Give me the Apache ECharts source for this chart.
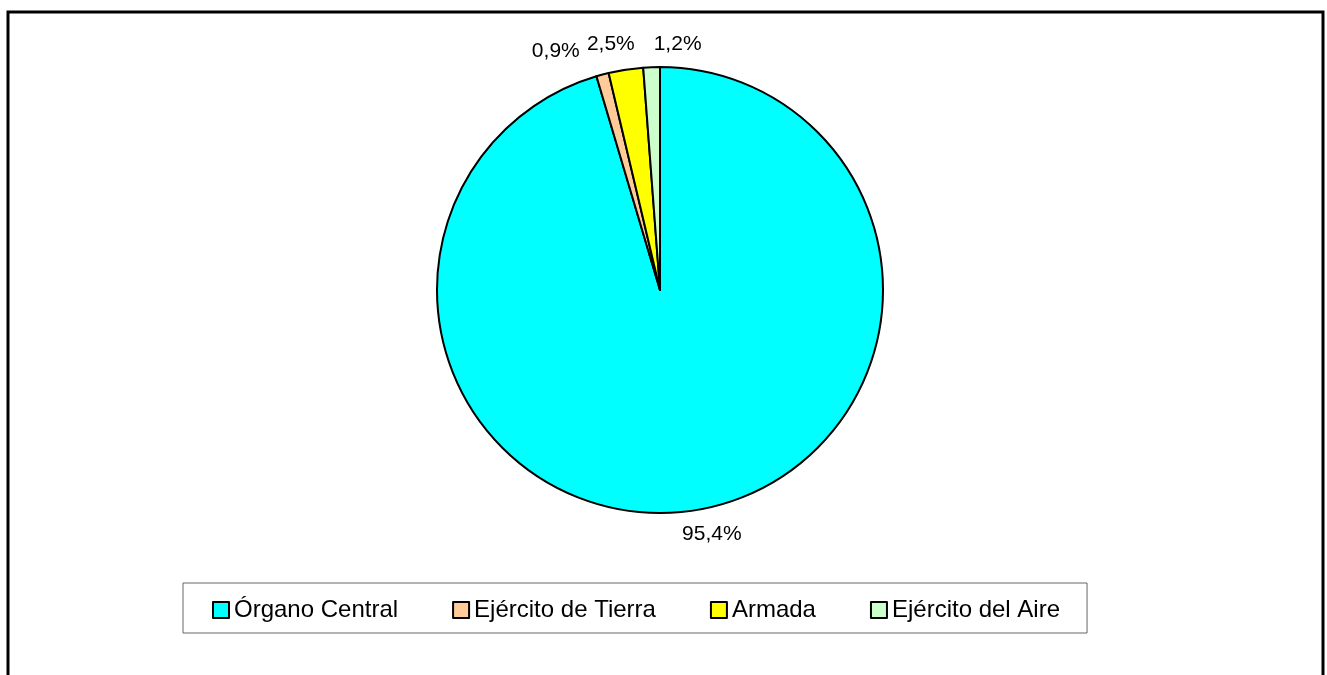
<!DOCTYPE html>
<html>
<head>
<meta charset="utf-8">
<script src="https://cdn.jsdelivr.net/npm/echarts@6/dist/echarts.min.js"></script>
<style>
  html, body { margin: 0; padding: 0; background: #ffffff; }
  #chart { width: 1327px; height: 675px; }
</style>
</head>
<body>
<div id="chart"></div>
<script>
// ---- data ----
const categories = ['Órgano Central', 'Ejército de Tierra', 'Armada', 'Ejército del Aire'];
const shares = [95.4, 0.9, 2.5, 1.2];

// ---- styles ----
const sliceColors = ['#00FFFF', '#FFCC99', '#FFFF00', '#CCFFCC'];
// small label nudges [dx, dy] (Excel-like label placement)
const labelNudge = [[16, -2], [-40, 2], [-11, 0], [27, 3]];
const FONT = '"Liberation Sans", Arial, sans-serif';

const chart = echarts.init(document.getElementById('chart'), null, { renderer: 'canvas' });

const pieData = categories.map((name, i) => ({
  name: name,
  value: shares[i],
  itemStyle: { color: sliceColors[i] }
}));

chart.setOption({
  backgroundColor: '#ffffff',
  animation: false,
  legend: {
    data: categories,
    left: 183,
    top: 583,
    orient: 'horizontal',
    itemWidth: 16,
    itemHeight: 16,
    itemGap: 54,
    padding: [15, 27, 11, 29],
    borderColor: '#666666',
    borderWidth: 1,
    icon: 'rect',
    itemStyle: { borderColor: '#000000', borderWidth: 2 },
    textStyle: { fontFamily: FONT, fontSize: 24, color: '#000000' },
    selectedMode: false
  },
  graphic: [{
    type: 'polyline',
    shape: { points: [[8, 700], [8, 12], [1323, 12], [1323, 700]] },
    style: { stroke: '#000000', lineWidth: 3, fill: null },
    silent: true
  }],
  series: [{
    type: 'pie',
    center: [660, 290],
    radius: [0, 223],
    startAngle: 90,
    clockwise: true,
    avoidLabelOverlap: false,
    data: pieData,
    itemStyle: { borderColor: '#000000', borderWidth: 2 },
    label: {
      show: true,
      position: 'outside',
      fontFamily: FONT,
      fontSize: 21,
      color: '#000000',
      distanceToLabelLine: 0,
      formatter: (p) => p.value.toFixed(1).replace('.', ',') + '%'
    },
    labelLine: { show: false, length: 26, length2: 0 },
    labelLayout: (p) => ({
      align: 'center',
      verticalAlign: 'middle',
      dx: labelNudge[p.dataIndex][0],
      dy: labelNudge[p.dataIndex][1]
    }),
    emphasis: { disabled: true }
  }]
});
</script>
</body>
</html>
